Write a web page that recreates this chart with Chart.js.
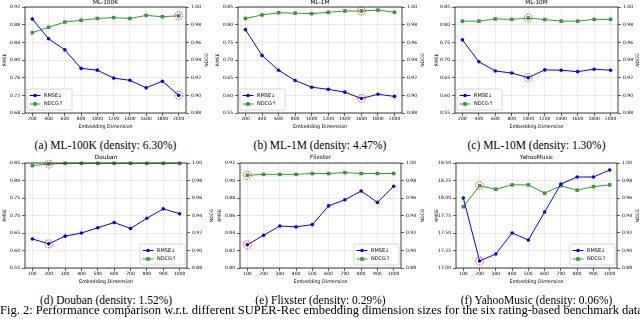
<!DOCTYPE html>
<html><head><meta charset="utf-8">
<script src="https://cdn.jsdelivr.net/npm/chart.js@4.4.0/dist/chart.umd.min.js"></script>
<style>
html,body{margin:0;padding:0;background:#fff;width:640px;height:319px;overflow:hidden;position:relative;}
canvas{position:absolute;}
.cap{position:absolute;font-family:"Liberation Serif","Times New Roman",serif;font-size:11.5px;color:#000;white-space:nowrap;transform:translateX(-50%);line-height:1;}
#fig{position:absolute;left:0;top:303.5px;font-family:"Liberation Serif","Times New Roman",serif;font-size:12.5px;color:#000;white-space:nowrap;line-height:1;}
</style></head><body>
<script>
// ---------- data ----------
const dimsML = [200,400,600,800,1000,1200,1400,1600,1800,2000];
const dimsOther = [100,200,300,400,500,600,700,800,900,1000];

const rmseML100K = [0.893,0.848,0.823,0.781,0.777,0.759,0.754,0.737,0.752,0.720];
const ndcgML100K = [0.971,0.977,0.983,0.985,0.987,0.988,0.987,0.9905,0.989,0.990];
const rmseML1M = [0.786,0.713,0.671,0.642,0.623,0.617,0.609,0.591,0.603,0.597];
const ndcgML1M = [0.987,0.991,0.9935,0.993,0.9925,0.994,0.9955,0.9955,0.9965,0.994];
const rmseML10M = [0.757,0.695,0.669,0.663,0.650,0.672,0.671,0.667,0.674,0.671];
const ndcgML10M = [0.984,0.984,0.9865,0.986,0.9875,0.9858,0.984,0.984,0.986,0.986];
const rmseDouban = [0.633,0.619,0.641,0.650,0.665,0.680,0.663,0.692,0.719,0.705];
const ndcgDouban = [0.997,0.9988,0.9996,0.9996,0.9996,0.9996,0.9996,0.9996,0.9996,0.9996];
const rmseFlixster = [0.8265,0.8375,0.848,0.847,0.8496,0.871,0.878,0.888,0.875,0.8935];
const ndcgFlixster = [0.986,0.987,0.987,0.987,0.988,0.988,0.989,0.988,0.988,0.988];
const rmseYahoo = [18.00,17.10,17.20,17.50,17.40,17.80,18.20,18.30,18.30,18.40];
const ndcgYahoo = [0.950,0.974,0.970,0.975,0.975,0.9655,0.974,0.969,0.973,0.975];

// index of the highlighted (chosen) point: [rmse, ndcg]
const bestML100K = [9,9];
const bestML1M = [7,7];
const bestML10M = [4,4];
const bestDouban = [1,1];
const bestFlixster = [0,0];
const bestYahoo = [1,1];

const rmseTicksML100K = [0.68,0.72,0.76,0.80,0.84,0.88,0.92];
const rmseTicksML = [0.55,0.60,0.65,0.70,0.75,0.80,0.85];
const rmseTicksFlixster = [0.80,0.82,0.84,0.86,0.88,0.90,0.92];
const rmseTicksYahoo = [17.00,17.25,17.50,17.75,18.00,18.25,18.50];
const ndcgTicks = [0.88,0.90,0.92,0.94,0.96,0.98,1.00];

const titles = ['ML-100K','ML-1M','ML-10M','Douban','Flixster','YahooMusic'];
const captions = ['(a) ML-100K (density: 6.30%)','(b) ML-1M (density: 4.47%)','(c) ML-10M (density: 1.30%)',
                  '(d) Douban (density: 1.52%)','(e) Flixster (density: 0.29%)','(f) YahooMusic (density: 0.06%)'];
const seriesLabels = ['RMSE↓','NDCG↑'];
const xTitle = 'Embedding Dimension';
const yTitle = 'RMSE';
const y1Title = 'NDCG';
const figCaption = 'Fig. 2: Performance comparison w.r.t. different SUPER-Rec embedding dimension sizes for the six rating-based benchmark datasets.';

// ---------- styling / layout ----------
const BLUE = '#0000ff';
const GREEN = '#2ca02c';
const GRID = 'rgba(0,0,0,0.13)';
const FONT = '"DejaVu Sans", sans-serif';

const panels = [
  {dims:dimsML, rmse:rmseML100K, ndcg:ndcgML100K, best:bestML100K, rt:rmseTicksML100K, cx:0,   cy:0,   w:212, h:130, yW:25, y1W:26, padTop:7,  xH:17, leg:'ll', tOff:5},
  {dims:dimsML, rmse:rmseML1M,   ndcg:ndcgML1M,   best:bestML1M,   rt:rmseTicksML,     cx:213, cy:0,   w:215, h:130, yW:25, y1W:26, padTop:7,  xH:17, leg:'ll', tOff:5},
  {dims:dimsML, rmse:rmseML10M,  ndcg:ndcgML10M,  best:bestML10M,  rt:rmseTicksML,     cx:432, cy:0,   w:211, h:130, yW:23, y1W:25, padTop:7,  xH:17, leg:'ll', tOff:5},
  {dims:dimsOther, rmse:rmseDouban,   ndcg:ndcgDouban,   best:bestDouban,   rt:rmseTicksML,       cx:0,   cy:150, w:217, h:135, yW:25, y1W:30, padTop:13, xH:17, leg:'lr', tOff:6},
  {dims:dimsOther, rmse:rmseFlixster, ndcg:ndcgFlixster, best:bestFlixster, rt:rmseTicksFlixster, cx:215, cy:150, w:213, h:135, yW:25, y1W:27, padTop:13, xH:17, leg:'lr', tOff:6},
  {dims:dimsOther, rmse:rmseYahoo,    ndcg:ndcgYahoo,    best:bestYahoo,    rt:rmseTicksYahoo,    cx:432, cy:150, w:211, h:135, yW:24, y1W:26, padTop:13, xH:17, leg:'lr', tOff:6},
];
const capY = [140,140,140,295,295,295];

const decor = {
  id:'decor',
  afterDraw(chart, args, o){
    const ctx = chart.ctx, ca = chart.chartArea;
    ctx.save();
    // frame
    ctx.strokeStyle = '#111'; ctx.lineWidth = 0.8;
    ctx.strokeRect(ca.left, ca.top, ca.right-ca.left, ca.bottom-ca.top);
    // title
    ctx.fillStyle = '#000'; ctx.font = '5.8px ' + FONT;
    ctx.textAlign = 'center'; ctx.textBaseline = 'middle';
    ctx.fillText(o.title, (ca.left+ca.right)/2, ca.top - o.tOff);
    // right axis title (rotated like matplotlib)
    ctx.save();
    ctx.translate(chart.width - 5, (ca.top+ca.bottom)/2);
    ctx.rotate(-Math.PI/2);
    ctx.font = '4.5px ' + FONT;
    ctx.fillText(o.y1Title, 0, 0);
    ctx.restore();
    // highlighted best points
    ctx.strokeStyle = '#ff0000'; ctx.lineWidth = 0.8; ctx.setLineDash([1.6,1.1]);
    o.best.forEach((idx, di) => {
      const pt = chart.getDatasetMeta(di).data[idx];
      ctx.beginPath(); ctx.arc(pt.x, pt.y, 4, 0, Math.PI*2); ctx.stroke();
    });
    ctx.setLineDash([]);
    // legend
    const bw = 45, bh = 21;
    const bx = o.leg === 'll' ? ca.left + 2 : ca.right - 2 - bw;
    const by = ca.bottom - 3 - bh;
    ctx.beginPath();
    if (ctx.roundRect) ctx.roundRect(bx, by, bw, bh, 1.5); else ctx.rect(bx, by, bw, bh);
    ctx.fillStyle = 'rgba(255,255,255,0.85)'; ctx.fill();
    ctx.strokeStyle = '#cccccc'; ctx.lineWidth = 0.8; ctx.stroke();
    chart.data.datasets.forEach((ds, i) => {
      const y = by + 6.5 + i*8.5;
      ctx.strokeStyle = ds.borderColor; ctx.lineWidth = 1;
      ctx.beginPath(); ctx.moveTo(bx+2.5, y); ctx.lineTo(bx+13.5, y); ctx.stroke();
      ctx.fillStyle = ds.borderColor;
      if (ds.pointStyle === 'rect') ctx.fillRect(bx+8-1.8, y-1.8, 3.6, 3.6);
      else { ctx.beginPath(); ctx.arc(bx+8, y, 1.8, 0, Math.PI*2); ctx.fill(); }
      ctx.fillStyle = '#000'; ctx.font = '5px ' + FONT; ctx.textAlign = 'left'; ctx.textBaseline = 'middle';
      ctx.fillText(ds.label, bx+17, y);
    });
    ctx.restore();
  }
};

panels.forEach((p, k) => {
  const cv = document.createElement('canvas');
  cv.width = p.w; cv.height = p.h;
  cv.style.left = p.cx + 'px'; cv.style.top = p.cy + 'px';
  document.body.appendChild(cv);
  const span = p.dims[p.dims.length-1] - p.dims[0];
  const tickFont = {size:4.5, family:FONT};
  const gridCommon = {color:GRID, lineWidth:0.6, tickLength:3, tickColor:'#000', tickWidth:0.6};
  new Chart(cv, {
    type:'line',
    data:{datasets:[
      {label:seriesLabels[0], data:p.dims.map((d,i)=>({x:d, y:p.rmse[i]})), yAxisID:'y',
       borderColor:BLUE, backgroundColor:BLUE, borderWidth:1, pointStyle:'circle', pointRadius:1.8, pointBorderWidth:0, tension:0, clip:5},
      {label:seriesLabels[1], data:p.dims.map((d,i)=>({x:d, y:p.ndcg[i]})), yAxisID:'y1',
       borderColor:GREEN, backgroundColor:GREEN, borderWidth:1, pointStyle:'rect', pointRadius:2.5, pointBorderWidth:0, tension:0, clip:5}
    ]},
    options:{
      responsive:false, animation:false, devicePixelRatio:1,
      layout:{padding:{top:p.padTop, left:0, right:0, bottom:0}},
      plugins:{legend:{display:false}, tooltip:{enabled:false}, title:{display:false},
        decor:{title:titles[k], y1Title:y1Title, best:p.best, leg:p.leg, tOff:p.tOff}},
      scales:{
        x:{type:'linear', min:p.dims[0]-span*0.05, max:p.dims[p.dims.length-1]+span*0.05,
           afterBuildTicks:s=>{s.ticks = p.dims.map(v=>({value:v}));},
           afterFit:s=>{s.height = p.xH;},
           ticks:{font:tickFont, color:'#000', padding:0, maxRotation:0, autoSkip:false, callback:v=>String(v)},
           grid:gridCommon, border:{display:false},
           title:{display:true, text:xTitle, font:{size:4.8, family:FONT}, color:'#000', padding:0}},
        y:{position:'left', min:p.rt[0], max:p.rt[p.rt.length-1],
           afterBuildTicks:s=>{s.ticks = p.rt.map(v=>({value:v}));},
           afterFit:s=>{s.width = p.yW;},
           ticks:{font:tickFont, color:'#000', padding:2, callback:v=>v.toFixed(2)},
           grid:gridCommon, border:{display:false},
           title:{display:true, text:yTitle, font:{size:4.5, family:FONT}, color:'#000', padding:{top:2, bottom:0}}},
        y1:{position:'right', min:ndcgTicks[0], max:ndcgTicks[ndcgTicks.length-1],
           afterBuildTicks:s=>{s.ticks = ndcgTicks.map(v=>({value:v}));},
           afterFit:s=>{s.width = p.y1W;},
           ticks:{font:tickFont, color:'#000', padding:2, callback:v=>v.toFixed(2)},
           grid:Object.assign({}, gridCommon, {drawOnChartArea:false}), border:{display:false},
           title:{display:false}}
      }
    },
    plugins:[decor]
  });
  const cap = document.createElement('div');
  cap.className = 'cap';
  cap.textContent = captions[k];
  cap.style.top = capY[k] + 'px';
  cap.dataset.k = k;
  document.body.appendChild(cap);
  // center caption under plot area after chart layout
  requestAnimationFrame(()=>{});
});
</script>
<div id="fig"></div>
<script>
document.getElementById('fig').textContent = figCaption;
// center captions under each plot area
Object.values(Chart.instances).forEach((ch, i) => {
  const ca = ch.chartArea;
  const left = parseFloat(ch.canvas.style.left);
  const caps = document.querySelectorAll('.cap');
  caps[i].style.left = (left + (ca.left + ca.right)/2) + 'px';
});
</script>
</body></html>
